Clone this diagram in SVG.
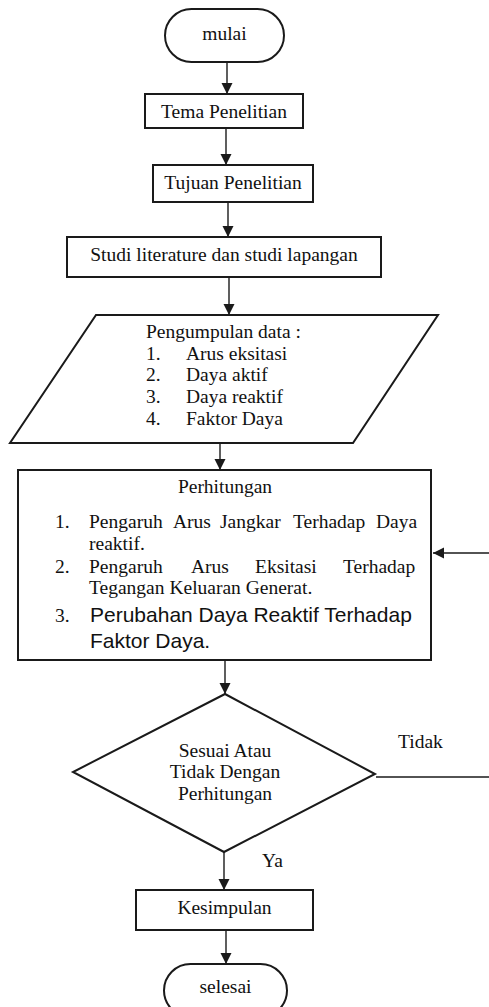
<svg xmlns="http://www.w3.org/2000/svg" width="489" height="1007" viewBox="0 0 489 1007">
<style>
.shape{fill:#fff;stroke:#1a1a1a;stroke-width:2}
.conn{fill:none;stroke:#1a1a1a;stroke-width:1.4}
.t{font-family:"Liberation Serif","Times New Roman",serif;font-size:19.5px;fill:#111}
.s{font-family:"Liberation Sans",Arial,sans-serif;font-size:21px;fill:#111}
.c{text-anchor:middle}
</style>
<defs>
<marker id="arr" markerUnits="userSpaceOnUse" markerWidth="12" markerHeight="12" refX="11" refY="5.5" orient="auto">
<path d="M0,0 L11,5.5 L0,11 Z" fill="#1a1a1a"/>
</marker>
</defs>
<rect width="489" height="1007" fill="#fff"/>
<g id="connectors">
<line class="conn" x1="227" y1="62" x2="227" y2="94" marker-end="url(#arr)"/>
<line class="conn" x1="226" y1="128" x2="226" y2="165" marker-end="url(#arr)"/>
<line class="conn" x1="228" y1="202" x2="228" y2="237" marker-end="url(#arr)"/>
<line class="conn" x1="229" y1="277" x2="229" y2="315" marker-end="url(#arr)"/>
<line class="conn" x1="220" y1="438" x2="220" y2="470" marker-end="url(#arr)"/>
<line class="conn" x1="225" y1="655" x2="225" y2="694" marker-end="url(#arr)"/>
<line class="conn" x1="224" y1="852" x2="224" y2="890" marker-end="url(#arr)"/>
<line class="conn" x1="226" y1="930" x2="226" y2="964" marker-end="url(#arr)"/>
<line class="conn" x1="489" y1="553" x2="433" y2="553" marker-end="url(#arr)"/>
<line class="conn" x1="376" y1="777" x2="489" y2="777"/>
<text class="t" x="398" y="748">Tidak</text>
<text class="t" x="262" y="867" textLength="21">Ya</text>
</g>
<g id="mulai">
<rect class="shape" x="165" y="9" width="119" height="53" rx="26.5"/>
<text class="t c" x="224.5" y="40">mulai</text>
</g>
<g id="tema">
<rect class="shape" x="145" y="94" width="158" height="34"/>
<text class="t c" x="224" y="118">Tema Penelitian</text>
</g>
<g id="tujuan">
<rect class="shape" x="153" y="165" width="160" height="37"/>
<text class="t c" x="233" y="189">Tujuan Penelitian</text>
</g>
<g id="studi">
<rect class="shape" x="67" y="237" width="314" height="40"/>
<text class="t c" x="224" y="261">Studi literature dan studi lapangan</text>
</g>
<g id="pengumpulan">
<polygon class="shape" points="96,315 438,315 353,443 10,443"/>
<text class="t" x="146" y="338">Pengumpulan data :</text>
<text class="t" x="146" y="360">1.</text><text class="t" x="186" y="360">Arus eksitasi</text>
<text class="t" x="146" y="381">2.</text><text class="t" x="186" y="381">Daya aktif</text>
<text class="t" x="146" y="403">3.</text><text class="t" x="186" y="403">Daya reaktif</text>
<text class="t" x="146" y="425">4.</text><text class="t" x="186" y="425">Faktor Daya</text>
</g>
<g id="perhitungan">
<rect class="shape" x="18" y="470" width="413" height="190"/>
<text class="t c" x="225" y="493">Perhitungan</text>
<text class="t" x="55" y="528">1.</text>
<text class="t" y="528"><tspan x="89">Pengaruh</tspan> <tspan x="173">Arus</tspan> <tspan x="220">Jangkar</tspan> <tspan x="293">Terhadap</tspan> <tspan x="376">Daya</tspan></text>
<text class="t" x="89" y="550">reaktif.</text>
<text class="t" x="55" y="573">2.</text>
<text class="t" y="573"><tspan x="89">Pengaruh</tspan> <tspan x="191">Arus</tspan> <tspan x="255">Eksitasi</tspan> <tspan x="343">Terhadap</tspan></text>
<text class="t" x="89" y="594">Tegangan Keluaran Generat.</text>
<text class="t" x="55" y="622">3.</text>
<text class="s" x="90" y="622">Perubahan Daya Reaktif Terhadap</text>
<text class="s" x="90" y="648">Faktor Daya.</text>
</g>
<g id="keputusan">
<polygon class="shape" points="225,694 375,774 224,852 73,772"/>
<text class="t c" x="225" y="757">Sesuai Atau</text>
<text class="t c" x="225" y="778">Tidak Dengan</text>
<text class="t c" x="225" y="800">Perhitungan</text>
</g>
<g id="kesimpulan">
<rect class="shape" x="136" y="890" width="177" height="40"/>
<text class="t c" x="224.5" y="914">Kesimpulan</text>
</g>
<g id="selesai">
<rect class="shape" x="164" y="964" width="123" height="53" rx="26.5"/>
<text class="t c" x="225.5" y="993">selesai</text>
</g>
</svg>
